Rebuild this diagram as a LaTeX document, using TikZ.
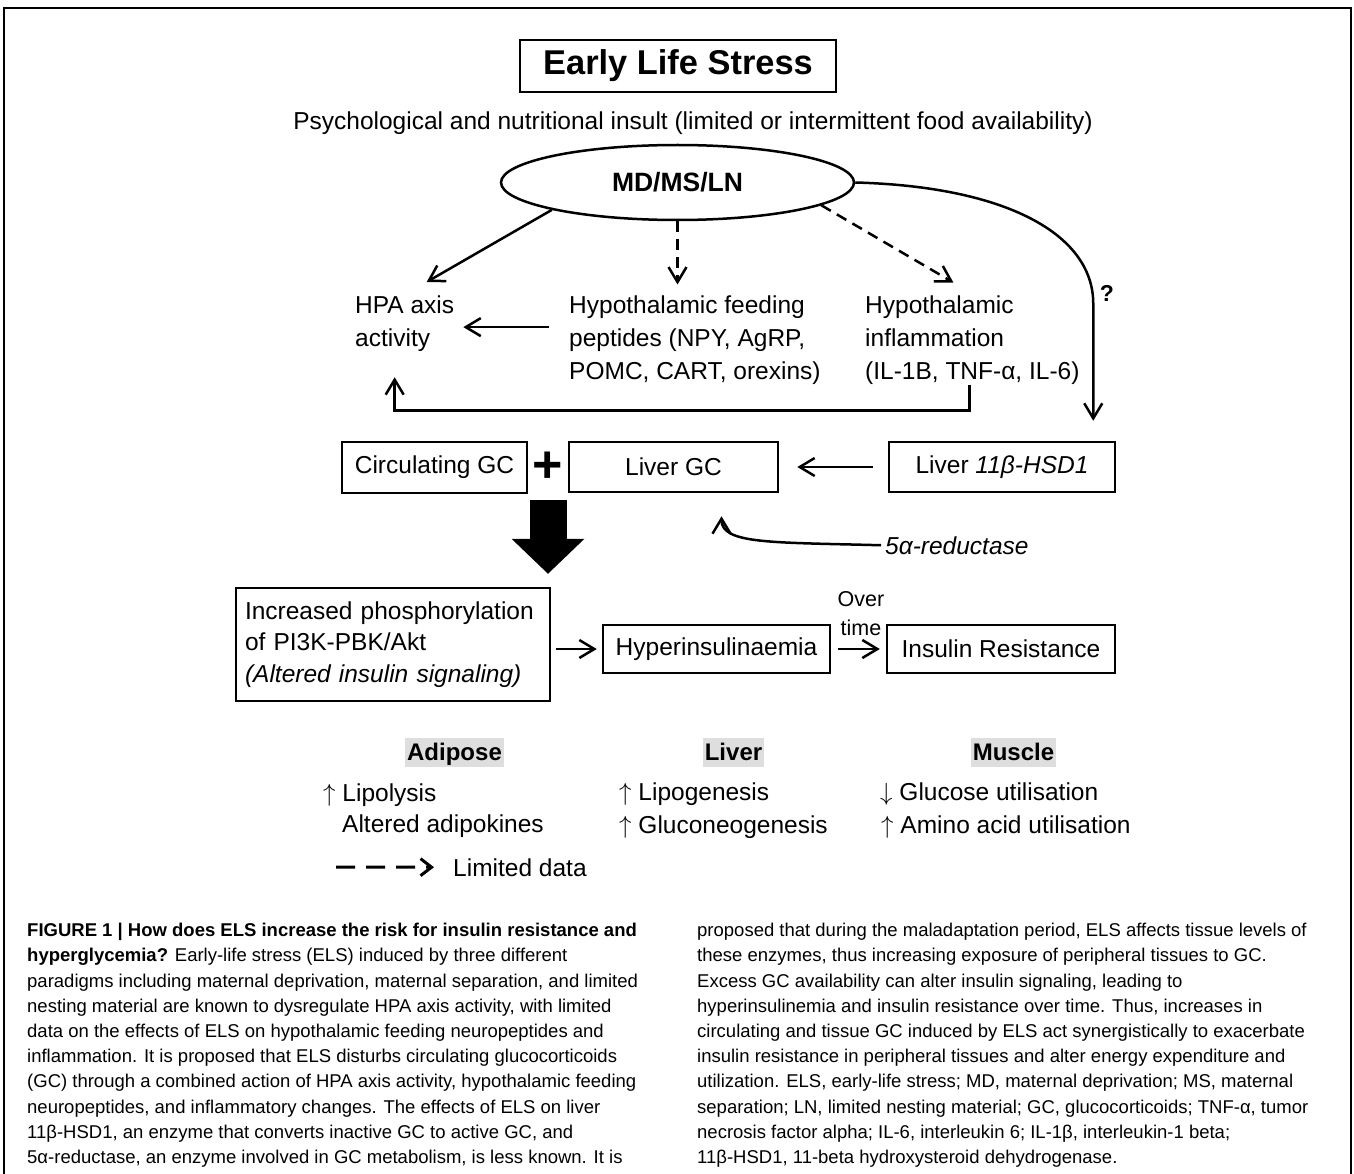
\documentclass[tikz,border=0pt]{standalone}
\usepackage{fontspec}
\setmainfont{Liberation Sans}
\usetikzlibrary{shapes.geometric, arrows.meta, positioning}

\tikzstyle{boxes} = [rectangle, draw=black, line width=2.5pt, inner sep=0pt, text centered, font=\fontsize{24.5}{33}\selectfont]
\tikzstyle{plaintext} = [inner sep=0pt, align=left, font=\fontsize{24.5}{33}\selectfont]
\tikzstyle{arrow} = [line width=2.5pt, -{Straight Barb[length=15pt,width=18pt]}]
\tikzstyle{dasharrow} = [arrow, dash pattern=on 11pt off 7pt]
\tikzstyle{legarrow} = [line width=3pt, dash pattern=on 19pt off 11pt, -{Straight Barb[length=11pt,width=17pt]}]
\tikzstyle{bigarrow} = [line width=37pt, -{Triangle[length=35pt,width=73pt,line width=0pt]}]
\tikzstyle{tissue} = [fill=black!13, inner xsep=2pt, inner ysep=0pt, text height=18pt, text depth=3pt, minimum height=29pt, font=\fontsize{24}{24}\selectfont\bfseries]
\tikzstyle{captext} = [inner sep=0pt, anchor=north west, align=left, font=\fontsize{18.5}{25.2}\selectfont]

\begin{document}
\begin{tikzpicture}[x=1pt, y=-1pt]
\useasboundingbox (0,0) rectangle (1354,1174);
\draw[line width=2pt] (4,1174) -- (4,8) -- (1351,8) -- (1351,1174);

% top of the scheme
\node (els) [boxes, line width=2pt, minimum width=316pt, minimum height=52pt, font=\fontsize{34.4}{34}\selectfont\bfseries] at (678,66) {Early Life Stress};
\node (insult) [plaintext, anchor=base] at (693,130) {Psychological and nutritional insult (limited or intermittent food availability)};
\node (mdms) [ellipse, draw, line width=2.5pt, minimum width=353pt, minimum height=75pt, inner sep=0pt, font=\fontsize{26.5}{26.5}\selectfont\bfseries] at (677.5,182.5) {MD/MS/LN};

\node (hpa) [plaintext, anchor=north west] at (355,296) {HPA axis\\activity};
\node (feed) [plaintext, anchor=north west] at (569,295.5) {Hypothalamic feeding\\peptides (NPY, AgRP,\\POMC, CART, orexins)};
\node (infl) [plaintext, anchor=north west] at (865,295.5) {Hypothalamic\\inflammation\\(IL-1B, TNF-α, IL-6)};
\node (question) [plaintext, font=\fontsize{23}{23}\selectfont\bfseries] at (1107,293) {?};

% glucocorticoid row
\node (circ) [boxes, minimum width=185pt, minimum height=51pt] at (434.5,467.5) {Circulating GC};
\node (plus) [inner sep=0pt, font=\fontsize{52}{52}\selectfont\bfseries] at (548,467) {+};
\node (livergc) [boxes, minimum width=209pt, minimum height=50pt] at (673.5,467) {Liver GC};
\node (hsd) [boxes, minimum width=226pt, minimum height=50pt] at (1002,467) {Liver \textit{11β-HSD1}};
\node (reduct) [plaintext, anchor=base west, font=\fontsize{24.5}{33}\selectfont\itshape] at (885,554) {5α-reductase};

% insulin row
\node (phos) [boxes, minimum width=314pt, minimum height=113pt, text width=296pt, align=left, font=\fontsize{24.5}{31.5}\selectfont] at (393,644.5) {Increased phosphorylation\\of PI3K-PBK/Akt\\\textit{(Altered insulin signaling)}};
\node (hyper) [boxes, minimum width=227pt, minimum height=48pt] at (716.5,649) {Hyperinsulinaemia};
\node (ir) [boxes, minimum width=228pt, minimum height=48pt] at (1001,649) {Insulin Resistance};
\node (overtime) [plaintext, align=center, font=\fontsize{21.5}{29}\selectfont] at (861,614) {Over\\time};

% tissues
\node (adipose) [tissue] at (454.5,752.5) {Adipose};
\node (liver) [tissue] at (733.5,752.5) {Liver};
\node (muscle) [tissue] at (1013.5,752.5) {Muscle};
\node (lipol) [plaintext, anchor=base west] at (323,801) {$\uparrow$ Lipolysis};
\node (adipok) [plaintext, anchor=base west] at (342,832) {Altered adipokines};
\node (lipog) [plaintext, anchor=base west] at (619,800) {$\uparrow$ Lipogenesis};
\node (gluco) [plaintext, anchor=base west] at (619,833) {$\uparrow$ Gluconeogenesis};
\node (glucu) [plaintext, anchor=base west] at (880,800) {$\downarrow$ Glucose utilisation};
\node (amino) [plaintext, anchor=base west] at (881,833) {$\uparrow$ Amino acid utilisation};

% legend
\coordinate (legstart) at (336,867);
\node (limited) [plaintext, anchor=base west] at (453,876) {Limited data};

% connectors
\draw[arrow] (mdms.south west) -- ([shift={(22,-14)}]hpa.north);
\draw[dasharrow, shorten >=11pt] (mdms.south) -- (mdms.south |- feed.north);
\draw[dasharrow] (mdms.-9) -- ([shift={(-19,-13)}]infl.north);
\draw[arrow] (mdms.east) .. controls +(150,4) and +(0,-70) .. ([shift={(-23,-137)}]hsd.north east) -- ([shift={(-23,-20)}]hsd.north east);
\draw[arrow, shorten <=20pt, shorten >=9pt] ([yshift=13pt]feed.west) -- ([yshift=13pt]feed.west -| hpa.east);
\draw[arrow] ([xshift=-3pt]infl.south) -- ++(0,26) -| ([shift={(-10,25)}]hpa.south);
\draw[arrow, shorten <=15pt, shorten >=18pt] (hsd) -- (livergc);
\draw[arrow] ([xshift=-4pt]reduct.west) .. controls +(-110,-3) and +(0,28) .. ([shift={(48,23)}]livergc.south);
\draw[bigarrow, shorten <=33pt, shorten >=13pt] (plus.center) -- (plus.center |- phos.north);
\draw[arrow, shorten <=5pt, shorten >=5pt] (phos.east |- hyper) -- (hyper.west);
\draw[arrow, shorten <=7pt, shorten >=6pt] (hyper) -- (ir);
\draw[legarrow, shorten >=19pt] (legstart) -- (limited.west);

% caption
\node (capleft) [captext] at (27,923) {\textbf{FIGURE 1 | How does ELS increase the risk for insulin resistance and}\\
\textbf{hyperglycemia?} Early-life stress (ELS) induced by three different\\
paradigms including maternal deprivation, maternal separation, and limited\\
nesting material are known to dysregulate HPA axis activity, with limited\\
data on the effects of ELS on hypothalamic feeding neuropeptides and\\
inflammation. It is proposed that ELS disturbs circulating glucocorticoids\\
(GC) through a combined action of HPA axis activity, hypothalamic feeding\\
neuropeptides, and inflammatory changes. The effects of ELS on liver\\
11β-HSD1, an enzyme that converts inactive GC to active GC, and\\
5α-reductase, an enzyme involved in GC metabolism, is less known. It is};
\node (capright) [captext] at (697,923) {proposed that during the maladaptation period, ELS affects tissue levels of\\
these enzymes, thus increasing exposure of peripheral tissues to GC.\\
Excess GC availability can alter insulin signaling, leading to\\
hyperinsulinemia and insulin resistance over time. Thus, increases in\\
circulating and tissue GC induced by ELS act synergistically to exacerbate\\
insulin resistance in peripheral tissues and alter energy expenditure and\\
utilization. ELS, early-life stress; MD, maternal deprivation; MS, maternal\\
separation; LN, limited nesting material; GC, glucocorticoids; TNF-α, tumor\\
necrosis factor alpha; IL-6, interleukin 6; IL-1β, interleukin-1 beta;\\
11β-HSD1, 11-beta hydroxysteroid dehydrogenase.};
\end{tikzpicture}
\end{document}
